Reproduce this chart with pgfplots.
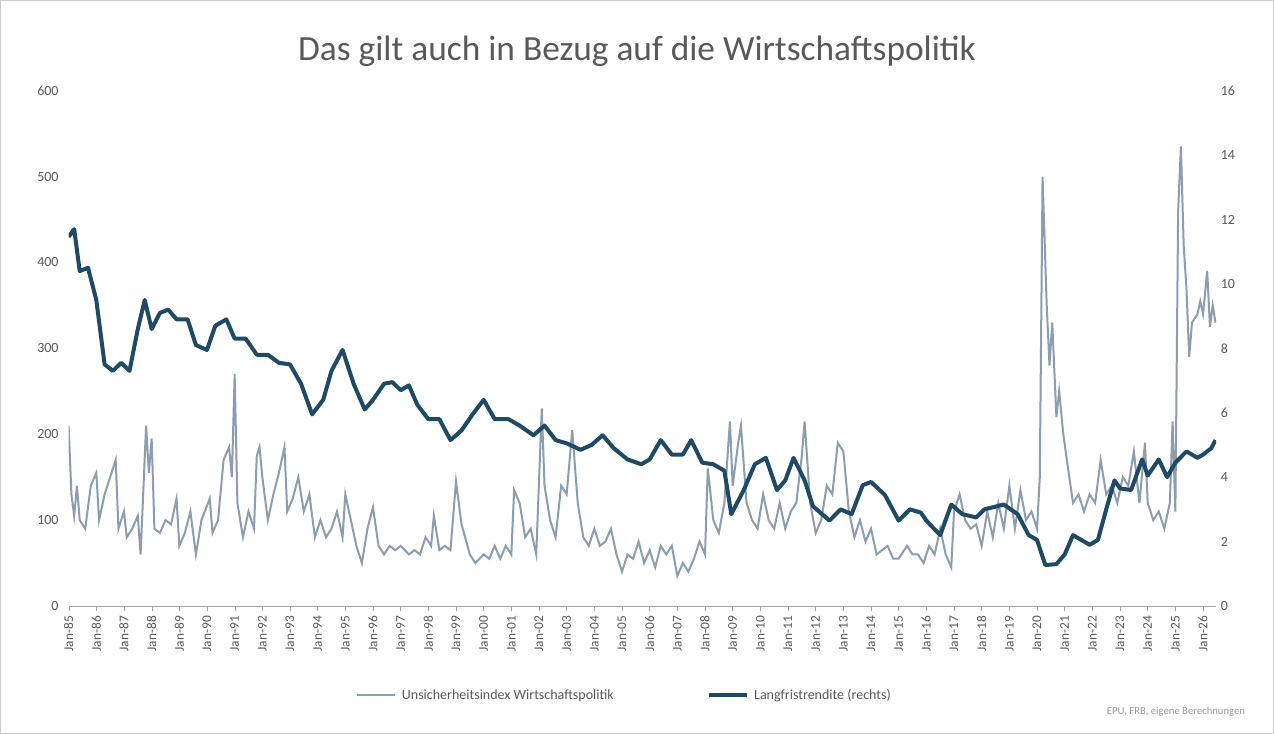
\documentclass[border=0pt]{standalone}
\usepackage{pgfplots}
\pgfplotsset{compat=1.18}
\usepackage{fontspec}
\setmainfont{Carlito}
\definecolor{epu}{HTML}{8C9DB0}
\definecolor{yld}{HTML}{1F4A66}
\definecolor{txt}{HTML}{595959}
\begin{document}
\begin{tikzpicture}[x=1pt,y=1pt]
\draw[black!20,fill=white] (0.5,0.5) rectangle (955,550);
\node[txt,font=\fontsize{26.5}{30}\selectfont] at (477.75,512) {Das gilt auch in Bezug auf die Wirtschaftspolitik};
\begin{axis}[at={(51.75pt,96pt)},anchor=south west,scale only axis,width=860pt,height=386.25pt,
 xmin=1985,xmax=2026.47,ymin=0,ymax=600,
 axis x line*=bottom, axis y line*=left, y axis line style={draw=none},
 x axis line style={black!35},
 xtick={1985,...,2026},
 xticklabels={Jan-85,Jan-86,Jan-87,Jan-88,Jan-89,Jan-90,Jan-91,Jan-92,Jan-93,Jan-94,Jan-95,Jan-96,Jan-97,Jan-98,Jan-99,Jan-00,Jan-01,Jan-02,Jan-03,Jan-04,Jan-05,Jan-06,Jan-07,Jan-08,Jan-09,Jan-10,Jan-11,Jan-12,Jan-13,Jan-14,Jan-15,Jan-16,Jan-17,Jan-18,Jan-19,Jan-20,Jan-21,Jan-22,Jan-23,Jan-24,Jan-25,Jan-26},
 xticklabel style={rotate=90,anchor=east,font=\fontsize{10}{12}\selectfont,color=txt},
 x tick style={black!35}, major tick length=4pt, tick align=outside,
 ytick={0,100,...,600}, ytick style={draw=none},
 yticklabel style={font=\fontsize{10.5}{12}\selectfont,color=txt},
 /pgf/number format/assume math mode=true, scaled ticks=false]
\addplot[epu,line width=1.5pt] coordinates {
(1985.0,210)(1985.1,130)(1985.2,105)(1985.3,140)(1985.4,100)(1985.6,90)(1985.8,140)(1986.0,155)(1986.1,100)(1986.3,130)(1986.5,150)(1986.7,170)(1986.8,90)(1987.0,110)(1987.1,80)(1987.3,90)(1987.5,105)(1987.6,60)(1987.8,210)(1987.9,155)(1988.0,195)(1988.1,90)(1988.3,85)(1988.5,100)(1988.7,95)(1988.9,125)(1989.0,70)(1989.2,85)(1989.4,110)(1989.6,60)(1989.8,100)(1990.1,125)(1990.2,85)(1990.4,100)(1990.6,170)(1990.8,185)(1990.9,150)(1991.0,270)(1991.1,120)(1991.3,80)(1991.5,110)(1991.7,90)(1991.8,175)(1991.9,185)(1992.0,150)(1992.2,100)(1992.4,130)(1992.6,155)(1992.8,185)(1992.9,110)(1993.1,125)(1993.3,150)(1993.5,110)(1993.7,130)(1993.9,80)(1994.1,100)(1994.3,80)(1994.5,90)(1994.7,110)(1994.9,80)(1995.0,130)(1995.2,100)(1995.4,70)(1995.6,50)(1995.8,90)(1996.0,115)(1996.2,70)(1996.4,60)(1996.6,70)(1996.8,65)(1997.0,70)(1997.3,60)(1997.5,65)(1997.7,60)(1997.9,80)(1998.1,70)(1998.2,105)(1998.4,65)(1998.6,70)(1998.8,65)(1999.0,145)(1999.2,95)(1999.5,60)(1999.7,50)(2000.0,60)(2000.2,55)(2000.4,70)(2000.6,55)(2000.8,70)(2001.0,60)(2001.1,135)(2001.3,120)(2001.5,80)(2001.7,90)(2001.9,60)(2002.1,230)(2002.2,140)(2002.4,100)(2002.6,80)(2002.8,140)(2003.0,130)(2003.2,205)(2003.4,120)(2003.6,80)(2003.8,70)(2004.0,90)(2004.2,70)(2004.4,75)(2004.6,90)(2004.8,60)(2005.0,40)(2005.2,60)(2005.4,55)(2005.6,75)(2005.8,50)(2006.0,65)(2006.2,45)(2006.4,70)(2006.6,60)(2006.8,70)(2007.0,35)(2007.2,50)(2007.4,40)(2007.6,55)(2007.8,75)(2008.0,60)(2008.1,160)(2008.3,100)(2008.5,85)(2008.7,120)(2008.9,215)(2009.0,140)(2009.2,190)(2009.3,210)(2009.5,120)(2009.7,100)(2009.9,90)(2010.1,130)(2010.3,100)(2010.5,90)(2010.7,120)(2010.9,90)(2011.1,110)(2011.3,120)(2011.5,175)(2011.6,215)(2011.8,120)(2012.0,85)(2012.2,100)(2012.4,140)(2012.6,130)(2012.8,190)(2013.0,180)(2013.2,110)(2013.4,80)(2013.6,100)(2013.8,75)(2014.0,90)(2014.2,60)(2014.4,65)(2014.6,70)(2014.8,55)(2015.0,55)(2015.3,70)(2015.5,60)(2015.7,60)(2015.9,50)(2016.1,70)(2016.3,60)(2016.5,90)(2016.7,60)(2016.9,45)(2017.0,110)(2017.2,130)(2017.4,100)(2017.6,90)(2017.8,95)(2018.0,70)(2018.2,110)(2018.4,80)(2018.6,120)(2018.8,90)(2019.0,140)(2019.2,90)(2019.4,135)(2019.6,100)(2019.8,110)(2020.0,90)(2020.1,150)(2020.2,500)(2020.35,350)(2020.45,280)(2020.55,330)(2020.7,220)(2020.8,250)(2020.95,200)(2021.1,165)(2021.3,120)(2021.5,130)(2021.7,110)(2021.9,130)(2022.1,120)(2022.3,170)(2022.5,130)(2022.7,140)(2022.9,120)(2023.1,150)(2023.3,140)(2023.5,180)(2023.7,120)(2023.9,190)(2024.0,120)(2024.2,100)(2024.4,110)(2024.6,90)(2024.8,120)(2024.9,215)(2025.0,110)(2025.1,460)(2025.2,535)(2025.3,420)(2025.4,370)(2025.5,290)(2025.6,330)(2025.8,340)(2025.9,355)(2026.0,340)(2026.15,390)(2026.25,325)(2026.35,350)(2026.45,330)};
\end{axis}
\begin{axis}[at={(51.75pt,96pt)},anchor=south west,scale only axis,width=860pt,height=386.25pt,
 xmin=1985,xmax=2026.47,ymin=0,ymax=16,
 axis x line=none, axis y line*=right, y axis line style={draw=none},
 ytick={0,2,...,16}, ytick style={draw=none},
 yticklabel style={font=\fontsize{10.5}{12}\selectfont,color=txt},
 /pgf/number format/assume math mode=true]
\addplot[yld,line width=3pt,line join=round] coordinates {
(1985.0,11.46)(1985.2,11.7)(1985.4,10.4)(1985.7,10.5)(1986.0,9.5)(1986.3,7.5)(1986.6,7.3)(1986.9,7.55)(1987.2,7.3)(1987.5,8.6)(1987.75,9.5)(1988.0,8.6)(1988.3,9.1)(1988.6,9.2)(1988.9,8.9)(1989.3,8.9)(1989.6,8.1)(1990.0,7.95)(1990.3,8.7)(1990.7,8.9)(1991.0,8.3)(1991.4,8.3)(1991.8,7.8)(1992.2,7.8)(1992.6,7.55)(1993.0,7.5)(1993.4,6.9)(1993.8,5.95)(1994.2,6.4)(1994.5,7.3)(1994.9,7.95)(1995.3,6.9)(1995.7,6.1)(1996.0,6.4)(1996.4,6.9)(1996.7,6.95)(1997.0,6.7)(1997.3,6.85)(1997.6,6.25)(1998.0,5.8)(1998.4,5.8)(1998.8,5.15)(1999.2,5.45)(1999.6,5.95)(2000.0,6.4)(2000.4,5.8)(2000.9,5.8)(2001.3,5.6)(2001.8,5.3)(2002.2,5.6)(2002.6,5.15)(2003.0,5.05)(2003.5,4.85)(2003.9,5.0)(2004.3,5.3)(2004.7,4.9)(2005.2,4.55)(2005.7,4.4)(2006.0,4.55)(2006.4,5.15)(2006.8,4.7)(2007.2,4.7)(2007.5,5.15)(2007.9,4.45)(2008.3,4.4)(2008.7,4.2)(2008.95,2.85)(2009.4,3.6)(2009.8,4.4)(2010.2,4.6)(2010.6,3.6)(2010.9,3.9)(2011.2,4.6)(2011.6,3.9)(2011.9,3.1)(2012.5,2.65)(2012.9,3.0)(2013.3,2.85)(2013.7,3.75)(2014.0,3.85)(2014.5,3.45)(2015.0,2.65)(2015.4,3.0)(2015.8,2.9)(2016.0,2.65)(2016.5,2.2)(2016.9,3.15)(2017.3,2.85)(2017.8,2.75)(2018.1,3.0)(2018.8,3.15)(2019.3,2.85)(2019.7,2.2)(2020.0,2.05)(2020.3,1.27)(2020.7,1.3)(2021.0,1.6)(2021.3,2.2)(2021.6,2.05)(2021.9,1.9)(2022.2,2.05)(2022.5,3.0)(2022.8,3.9)(2023.0,3.65)(2023.4,3.6)(2023.8,4.55)(2024.0,4.05)(2024.4,4.55)(2024.7,4.0)(2025.0,4.45)(2025.4,4.8)(2025.8,4.6)(2026.0,4.7)(2026.3,4.9)(2026.45,5.15)};
\end{axis}
\draw[epu,line width=1.5pt] (268,29) -- (296,29);
\node[txt,anchor=west,font=\fontsize{10.5}{12}\selectfont] at (298,29) {Unsicherheitsindex Wirtschaftspolitik};
\draw[yld,line width=3pt] (532,29) -- (560,29);
\node[txt,anchor=west,font=\fontsize{10.5}{12}\selectfont] at (562,29) {Langfristrendite (rechts)};
\node[black!40,anchor=east,font=\fontsize{8}{10}\selectfont] at (937,17) {EPU, FRB, eigene Berechnungen};
\end{tikzpicture}
\end{document}
